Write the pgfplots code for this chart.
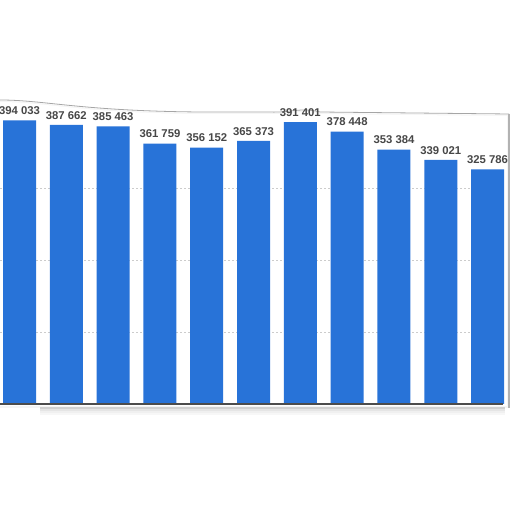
\documentclass[border=0pt]{standalone}
\usepackage{pgfplots}
\pgfplotsset{compat=1.18}
\usepackage{fontspec}
\setmainfont{Liberation Sans}
\definecolor{barblue}{HTML}{2873D8}
\definecolor{lblgray}{HTML}{474747}
\begin{document}
\begin{tikzpicture}[x=1pt,y=1pt]
\useasboundingbox (0,0) rectangle (512,512);
\clip (0,0) rectangle (512,512);
\fill[white] (0,0) rectangle (512,512);
% paper shadow (torn edge top, right edge, bottom)
\fill[black!4] (0,411) .. controls (45,411) and (80,400) .. (200,399) -- (270,399) .. controls (290,398) and (300,404) .. (320,399) -- (509,397) -- (509,104) -- (0,104) -- cycle;
\fill[white] (0,410) .. controls (45,410) and (80,399) .. (200,398) -- (270,398) .. controls (290,397) and (300,403) .. (320,398) -- (507,396) -- (507,106) -- (0,106) -- cycle;
\draw[black!35, line width=0.8] (0,412) .. controls (45,412) and (80,401) .. (200,400) -- (270,400) .. controls (290,399) and (300,405) .. (320,400) -- (509,398);
\draw[black!30, line width=1.2] (509,398) -- (509,104);
\foreach \o/\c in {1/18,3/10,5/6,7/3}{
  \draw[black!\c, line width=2] (40,105-\o) -- (505,105-\o);
}
\begin{axis}[
  at={(0pt,108pt)}, anchor=south west,
  scale only axis, width=503pt, height=288pt,
  xmin=-0.417, xmax=10.33, ymin=0, ymax=400000,
  clip=false,
  scaled y ticks=false,
  axis line style={draw=none},
  xtick=\empty,
  ytick={100000,200000,300000},
  yticklabels={},
  ymajorgrids,
  major grid style={black!20, dash pattern=on 2pt off 2pt, line width=0.6pt},
  major tick length=0pt,
  ybar, bar width=33pt,
  point meta=explicit symbolic,
  nodes near coords,
  every node near coord/.append style={font=\bfseries\fontsize{11.3}{11.3}\selectfont, text=lblgray, anchor=south, yshift=4.5pt, inner sep=1pt},
]
\addplot[fill=barblue, draw=none] coordinates {
  (0,394033) [394 033]
  (1,387662) [387 662]
  (2,385463) [385 463]
  (3,361759) [361 759]
  (4,356152) [356 152]
  (5,365373) [365 373]
  (6,391401) [391 401]
  (7,378448) [378 448]
  (8,353384) [353 384]
  (9,339021) [339 021]
  (10,325786) [325 786]
};
\draw[black!70, line width=1.2pt] (rel axis cs:0,0) -- (rel axis cs:1,0);
\end{axis}
\end{tikzpicture}
\end{document}
